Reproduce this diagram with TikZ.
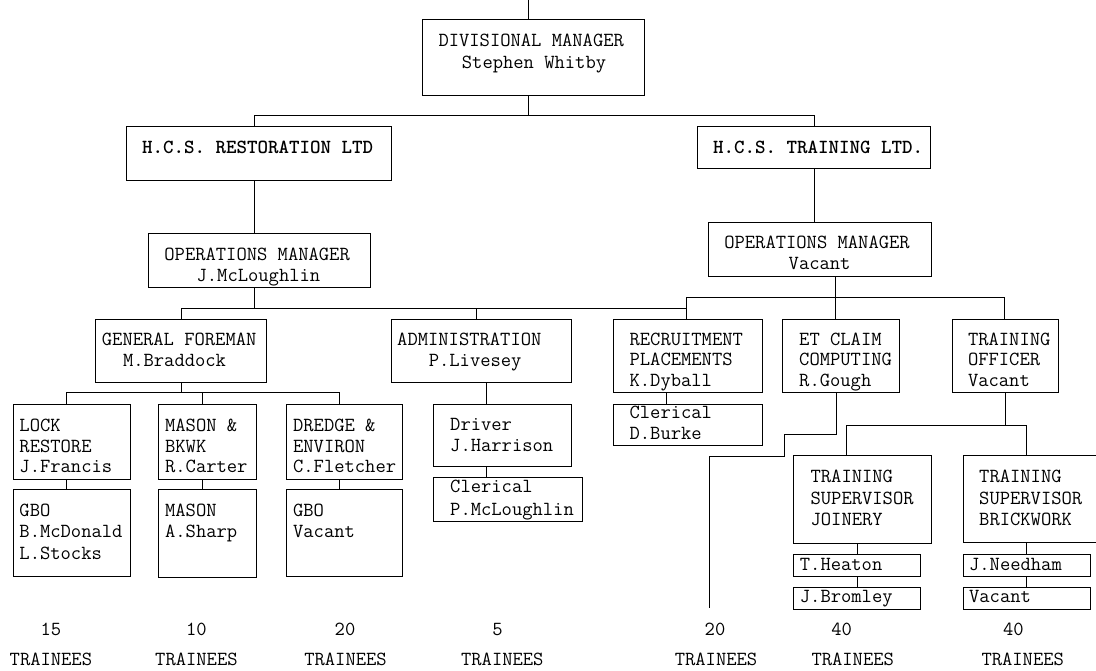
\documentclass[tikz,border=0pt]{standalone}
\begin{document}
\begin{tikzpicture}[x=1pt,y=-1pt,
  box/.style={draw, line width=0.9pt, anchor=north west, inner sep=0pt, outer sep=0pt},
  lbl/.style={anchor=base west, inner sep=0pt, font=\ttfamily\fontsize{20}{24}\selectfont},
  hdr/.style={lbl, font=\ttfamily\bfseries\fontsize{20}{24}\selectfont},
  foot/.style={anchor=base, inner sep=0pt, font=\ttfamily\fontsize{20}{24}\selectfont},
  conn/.style={line width=0.9pt}]
\useasboundingbox (0,0) rectangle (1096,670);
\clip (0,0) rectangle (1096,670);
\newcommand\orgbox[5]{\node[box, minimum width={(#4-#2)*1pt}, minimum height={(#5-#3)*1pt}] (#1) at (#2,#3) {};}
\newcommand\txt[4]{\node[lbl] (#1) at (#2,#3) {#4};}
% boxes
\orgbox{dm}{422.7}{19.3}{644.7}{95}
\orgbox{res}{126.6}{126}{391.4}{180}
\orgbox{trn}{697.3}{126}{930.6}{168}
\orgbox{oml}{148.4}{233}{370}{287}
\orgbox{omr}{708.4}{222}{931.3}{276}
\orgbox{gf}{95.4}{319}{266.6}{382.7}
\orgbox{adm}{391.1}{319}{571.7}{382}
\orgbox{lock}{13.3}{404}{130.5}{479}
\orgbox{gboa}{13.3}{489}{130.5}{576.7}
\orgbox{mas}{158.9}{404}{256}{479}
\orgbox{masb}{158.9}{489}{256}{577}
\orgbox{dre}{286.9}{404}{402.7}{479}
\orgbox{gbob}{286.9}{489}{402.7}{576}
\orgbox{drv}{433.9}{404}{571.6}{466.7}
\orgbox{cla}{433.9}{477.7}{582.4}{521}
\orgbox{rec}{613.4}{319}{762.4}{392.7}
\orgbox{clb}{613.4}{404}{762.4}{445.7}
\orgbox{etc}{782.6}{319}{899.2}{392.7}
\orgbox{tro}{952.2}{319}{1058.4}{392.7}
\orgbox{tsj}{793.7}{455.7}{931.3}{543}
\orgbox{tsb}{963.3}{455.7}{1110}{542.5}
\orgbox{hea}{793.7}{554.3}{920.8}{576}
\orgbox{bro}{793.7}{587.3}{920.8}{609}
\orgbox{nee}{963.3}{554.3}{1090.7}{576}
\orgbox{vac}{963.3}{587.3}{1090.7}{609}
% texts
\txt{t1}{438.3}{46.7}{DIVISIONAL MANAGER}
\txt{t2}{461.7}{68}{Stephen Whitby}
\node[hdr] (t3) at (142,153) {H.C.S. RESTORATION LTD};
\node[hdr] (t4) at (713,153) {H.C.S. TRAINING LTD.};
\txt{t5}{164.2}{260}{OPERATIONS MANAGER}
\txt{t6}{196.4}{281}{J.McLoughlin}
\txt{t7}{724.1}{248.3}{OPERATIONS MANAGER}
\txt{t8}{788.5}{269.3}{Vacant}
\txt{t9}{101.7}{345}{GENERAL FOREMAN}
\txt{t10}{122.8}{366}{M.Braddock}
\txt{t11}{397}{345}{ADMINISTRATION}
\txt{t12}{428.6}{366}{P.Livesey}
\txt{t13}{19.3}{431}{LOCK}
\txt{t14}{19.3}{452}{RESTORE}
\txt{t15}{19.3}{472}{J.Francis}
\txt{t16}{19.3}{516}{GBO}
\txt{t17}{19.3}{537}{B.McDonald}
\txt{t18}{19.3}{559}{L.Stocks}
\txt{t19}{164.9}{431}{MASON \&}
\txt{t20}{164.9}{452}{BKWK}
\txt{t21}{164.9}{472}{R.Carter}
\txt{t22}{164.9}{516}{MASON}
\txt{t23}{164.9}{537}{A.Sharp}
\txt{t24}{292.9}{431}{DREDGE \&}
\txt{t25}{292.9}{452}{ENVIRON}
\txt{t26}{292.9}{472}{C.Fletcher}
\txt{t27}{292.9}{516}{GBO}
\txt{t28}{292.9}{537}{Vacant}
\txt{t29}{450}{430}{Driver}
\txt{t30}{450}{451}{J.Harrison}
\txt{t31}{450}{492.7}{Clerical}
\txt{t32}{450}{515}{P.McLoughlin}
\txt{t33}{629.4}{345}{RECRUITMENT}
\txt{t34}{629.4}{365.7}{PLACEMENTS}
\txt{t35}{629.4}{386.7}{K.Dyball}
\txt{t36}{629.4}{418.3}{Clerical}
\txt{t37}{629.4}{439.3}{D.Burke}
\txt{t38}{799}{345}{ET CLAIM}
\txt{t39}{799}{365.7}{COMPUTING}
\txt{t40}{799}{386.7}{R.Gough}
\txt{t41}{967.8}{345}{TRAINING}
\txt{t42}{967.8}{365.7}{OFFICER}
\txt{t43}{967.8}{386.7}{Vacant}
\txt{t44}{810.4}{482.3}{TRAINING}
\txt{t45}{810.4}{504}{SUPERVISOR}
\txt{t46}{810.4}{525.7}{JOINERY}
\txt{t47}{979}{482.3}{TRAINING}
\txt{t48}{979}{504}{SUPERVISOR}
\txt{t49}{979}{525.7}{BRICKWORK}
\txt{t50}{799.7}{570}{T.Heaton}
\txt{t51}{799.7}{602.7}{J.Bromley}
\txt{t52}{968.9}{570}{J.Needham}
\txt{t53}{968.9}{602.7}{Vacant}
% footers
\node[foot] (n1) at (50.9,635) {15};
\node[foot] (n2) at (196.4,635) {10};
\node[foot] (n3) at (345,635) {20};
\node[foot] (n4) at (497.4,635) {5};
\node[foot] (n5) at (715,635) {20};
\node[foot] (n6) at (841.7,635) {40};
\node[foot] (n7) at (1013.3,635) {40};
\node[foot] (f1) at (50.9,665) {TRAINEES};
\node[foot] (f2) at (196.4,665) {TRAINEES};
\node[foot] (f3) at (345.5,665) {TRAINEES};
\node[foot] (f4) at (502.3,665) {TRAINEES};
\node[foot] (f5) at (716,665) {TRAINEES};
\node[foot] (f6) at (852.7,665) {TRAINEES};
\node[foot] (f7) at (1022.7,665) {TRAINEES};
% coordinates
\coordinate (top) at (528,0);
\coordinate (bl) at (254,115.7);
\coordinate (bm) at (528,115.7);
\coordinate (br) at (814.3,115.7);
\coordinate (lb) at (254,308);
\coordinate (lbl) at (181.7,308);
\coordinate (lbr) at (686.8,308);
\coordinate (lbm) at (476,308);
\coordinate (rbl) at (686.8,297);
\coordinate (rbm) at (835.5,297);
\coordinate (rbr) at (1004.4,297);
\coordinate (gfb) at (181.7,392.7);
\coordinate (gl) at (66.6,392.7);
\coordinate (gm) at (202.4,392.7);
\coordinate (gr) at (339.5,392.7);
\coordinate (ax) at (486.8,0);
\coordinate (rx) at (666.6,0);
\coordinate (ea) at (836,434);
\coordinate (eb) at (784,434);
\coordinate (ec) at (784,456);
\coordinate (ed) at (709.3,456);
\coordinate (ee) at (709.3,608.3);
\coordinate (tb) at (1005,425);
\coordinate (tl) at (846.7,425);
\coordinate (tr) at (1026.3,425);
\coordinate (jx) at (857.5,550);
% connectors
\draw[conn] (top) -- (top |- dm.north);
\draw[conn] (dm.south -| bm) -- (bm);
\draw[conn] (bl |- res.north) -- (bl) -- (br) -- (br |- trn.north);
\draw[conn] (res.south -| bl) -- (bl |- oml.north);
\draw[conn] (trn.south -| br) -- (br |- omr.north);
\draw[conn] (oml.south -| lb) -- (lb);
\draw[conn] (lbl |- gf.north) -- (lbl) -- (lbr);
\draw[conn] (lbm) -- (lbm |- adm.north);
\draw[conn] (rbl |- rec.north) -- (rbl) -- (rbr) -- (rbr |- tro.north);
\draw[conn] (omr.south -| rbm) -- (rbm |- etc.north);
\draw[conn] (gf.south -| gfb) -- (gfb);
\draw[conn] (gl |- lock.north) -- (gl) -- (gr) -- (gr |- dre.north);
\draw[conn] (gm) -- (gm |- mas.north);
\draw[conn] (lock.south -| gl) -- (gl |- gboa.north);
\draw[conn] (mas.south -| gm) -- (gm |- masb.north);
\draw[conn] (dre.south -| gr) -- (gr |- gbob.north);
\draw[conn] (adm.south -| ax) -- (drv.north -| ax);
\draw[conn] (drv.south -| ax) -- (cla.north -| ax);
\draw[conn] (rec.south -| rx) -- (clb.north -| rx);
\draw[conn] (etc.south -| ea) -- (ea) -- (eb) -- (ec) -- (ed) -- (ee);
\draw[conn] (tro.south -| tb) -- (tb);
\draw[conn] (tl |- tsj.north) -- (tl) -- (tr) -- (tr |- tsb.north);
\draw[conn] (tsj.south -| jx) -- (jx |- hea.north);
\draw[conn] (hea.south -| jx) -- (jx |- bro.north);
\draw[conn] (tsb.south -| tr) -- (tr |- nee.north);
\draw[conn] (nee.south -| tr) -- (tr |- vac.north);
\end{tikzpicture}
\end{document}
